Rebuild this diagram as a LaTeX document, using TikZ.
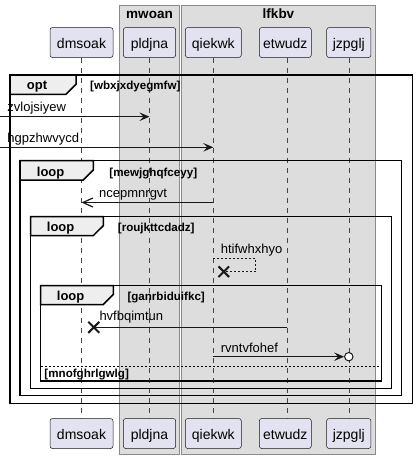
\documentclass[tikz,border=0pt]{standalone}
\usepackage{fontspec}
\setmainfont{Liberation Sans}
\usetikzlibrary{arrows.meta}
\definecolor{pbox}{HTML}{E2E2F0}
\definecolor{pborder}{HTML}{181818}
\definecolor{grpbg}{HTML}{DDDDDD}
\definecolor{grpborder}{HTML}{8A8A8A}
\definecolor{tabbg}{HTML}{EEEEEE}
\definecolor{ink}{HTML}{181818}
\begin{document}
\begin{tikzpicture}[x=1pt,y=-1pt,
  part/.style={draw=pborder, line width=0.5pt, fill=pbox, rounded corners=2.5pt,
    minimum height=30pt, inner sep=0pt, text height=11.5pt, text depth=0pt,
    font=\fontsize{14}{16}\selectfont},
  grpbox/.style={draw=grpborder, line width=0.8pt, fill=grpbg},
  grptitle/.style={anchor=base, inner sep=0pt, font=\bfseries\fontsize{13.5}{15}\selectfont},
  lifeline/.style={draw=ink!80, line width=0.5pt, dash pattern=on 5pt off 5pt},
  frame/.style={draw=black, line width=1.5pt},
  tabshape/.style={draw=black, line width=1.5pt, fill=tabbg, line join=miter},
  ftitle/.style={anchor=base west, inner sep=0pt, font=\bfseries\fontsize{13}{15}\selectfont},
  fcond/.style={anchor=base west, inner sep=0pt, font=\bfseries\fontsize{11.6}{13}\selectfont},
  mlabel/.style={anchor=base west, inner sep=0pt, font=\fontsize{13}{15}\selectfont},
  msg/.style={draw=ink, line width=1pt},
  filled/.style={-{Stealth[length=10pt,width=8.5pt,inset=4pt]}},
  openarr/.style={-{Straight Barb[length=10pt,width=9pt,line width=1.2pt]}},
  dashmsg/.style={draw=ink, line width=1pt, dash pattern=on 2pt off 2pt},
  lost/.style={draw=ink, line width=2pt},
  sep/.style={draw=black, line width=1pt, dash pattern=on 2pt off 2pt}]

\fill[white] (0,0) rectangle (416,459);
\useasboundingbox (0,0) rectangle (416,459);

% group boxes
\draw[grpbox] (119.3,5.5) rectangle (179.7,454);
\draw[grpbox] (181.7,5.5) rectangle (375.7,454);
\node[grptitle] (tmwoan) at (149.5,18.5) {mwoan};
\node[grptitle] (tlfkbv) at (278.5,18.5) {lfkbv};

% participants
\node[part, minimum width=63pt]   (dmsoakT) at (81.5,42.5) {dmsoak};
\node[part, minimum width=52.4pt] (pldjnaT) at (149.5,42.5) {pldjna};
\node[part, minimum width=56pt]   (qiekwkT) at (213.3,42.5) {qiekwk};
\node[part, minimum width=52pt]   (etwudzT) at (285.3,42.5) {etwudz};
\node[part, minimum width=44.3pt] (jzpgljT) at (348.8,42.5) {jzpglj};
\node[part, minimum width=63pt]   (dmsoakB) at (81.5,433.5) {dmsoak};
\node[part, minimum width=52.4pt] (pldjnaB) at (149.5,433.5) {pldjna};
\node[part, minimum width=56pt]   (qiekwkB) at (213.3,433.5) {qiekwk};
\node[part, minimum width=52pt]   (etwudzB) at (285.3,433.5) {etwudz};
\node[part, minimum width=44.3pt] (jzpgljB) at (348.8,433.5) {jzpglj};

% lifelines
\draw[lifeline] (dmsoakT.south) -- (dmsoakB.north);
\draw[lifeline] (pldjnaT.south) -- (pldjnaB.north);
\draw[lifeline] (qiekwkT.south) -- (qiekwkB.north);
\draw[lifeline] ([xshift=2pt]etwudzT.south) -- ([xshift=2pt]etwudzB.north);
\draw[lifeline] (jzpgljT.south) -- (jzpgljB.north);

% opt frame
\draw[frame] (10,75) rectangle (412.3,403.3);
\draw[tabshape] (10,75) -- (76,75) -- (76,84.3) -- (66,94.3) -- (10,94.3) -- cycle;
\node[ftitle] (optT) at (26.7,89.3) {opt};
\node[fcond] (optC) at (90,89.3) {[wbxjxdyegmfw]};

% messages in opt
\coordinate (zsrc) at (0,116.7);
\draw[msg, filled] (zsrc) -- (zsrc -| pldjnaT);
\node[mlabel] (zlab) at (7.3,111.7) {zvlojsiyew};
\coordinate (hsrc) at (0,147.3);
\draw[msg, filled] (hsrc) -- (hsrc -| qiekwkT);
\node[mlabel] (hlab) at (7.3,142.3) {hgpzhwvycd};

% loop 1
\draw[frame] (20,160.7) rectangle (401.7,395.7);
\draw[tabshape] (20,160.7) -- (93.3,160.7) -- (93.3,170) -- (83.3,180) -- (20,180) -- cycle;
\node[ftitle] (l1T) at (36.7,176.3) {loop};
\node[fcond] (l1C) at (109.3,176.3) {[mewjghqfceyy]};

\coordinate (nrow) at (0,202.5);
\draw[msg, openarr] (nrow -| qiekwkT) -- (nrow -| dmsoakT);
\node[mlabel] (nlab) at (99,197) {ncepmnrgvt};

% loop 2
\draw[frame] (30.7,216.7) rectangle (391.7,388.3);
\draw[tabshape] (30.7,216.7) -- (103.3,216.7) -- (103.3,225.7) -- (93.3,235.5) -- (30.7,235.5) -- cycle;
\node[ftitle] (l2T) at (46.7,231.7) {loop};
\node[fcond] (l2C) at (117.7,231.7) {[roujkttcdadz]};

% self lost message
\coordinate (srow) at (0,258.3);
\coordinate (sx) at (223.8,271.7);
\coordinate (scorner) at (255.7,258.3);
\draw[dashmsg] (srow -| qiekwkT) -- (scorner) -- (scorner |- sx) -- (sx);
\draw[lost] ([shift={(-5.3,-5.3)}]sx) -- ([shift={(5.3,5.3)}]sx);
\draw[lost] ([shift={(-5.3,5.3)}]sx) -- ([shift={(5.3,-5.3)}]sx);
\node[mlabel] (slab) at (220.7,253.3) {htifwhxhyo};

% loop 3
\draw[frame] (40.7,285.7) rectangle (381.7,381);
\draw[tabshape] (40.7,285.7) -- (113.3,285.7) -- (113.3,294.5) -- (103.3,304.5) -- (40.7,304.5) -- cycle;
\node[ftitle] (l3T) at (56.7,300.5) {loop};
\node[fcond] (l3C) at (127.3,300.5) {[ganrbiduifkc]};

\coordinate (hx) at (93.8,327.3);
\draw[msg] ([xshift=2pt]etwudzT.south |- hx) -- (hx);
\draw[lost] ([shift={(-5.5,-5.5)}]hx) -- ([shift={(5.5,5.5)}]hx);
\draw[lost] ([shift={(-5.5,5.5)}]hx) -- ([shift={(5.5,-5.5)}]hx);
\node[mlabel] (hvlab) at (99.3,320.3) {hvfbqimtun};

\coordinate (rrow) at (0,356.7);
\node[circle, draw=ink, line width=1pt, fill=white, minimum size=8.4pt, inner sep=0pt] (rcirc) at (rrow -| jzpgljT) {};
\draw[msg, filled] (rrow -| qiekwkT) -- (rcirc.west);
\node[mlabel] (rlab) at (220.7,352) {rvntvfohef};

\coordinate (sepL) at (40.7,366.7);
\coordinate (sepR) at (381.7,366.7);
\draw[sep] (sepL) -- (sepR);
\node[fcond] (eC) at (44.3,377.7) {[mnofghrlgwlg]};
\end{tikzpicture}
\end{document}
